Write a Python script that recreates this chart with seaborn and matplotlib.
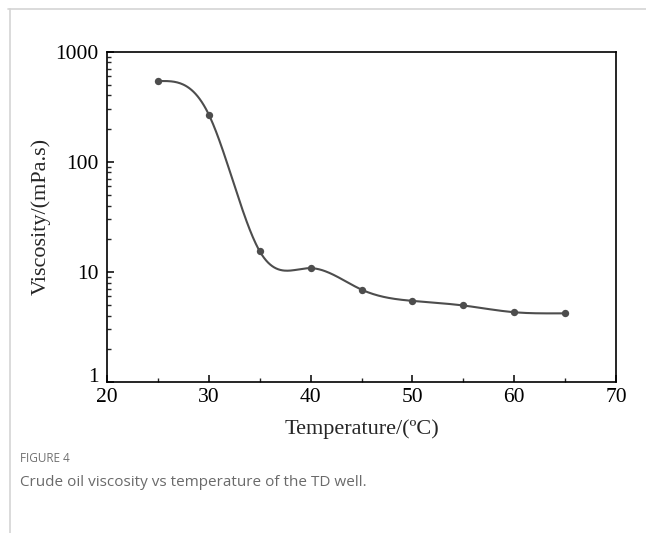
import numpy as np
import pandas as pd
import matplotlib
matplotlib.use("Agg")
import matplotlib.pyplot as plt
import matplotlib.transforms as mtransforms
import seaborn as sns
from matplotlib.lines import Line2D
from matplotlib.ticker import LogLocator, NullFormatter, MultipleLocator

# Data
temperature = [25, 30, 35, 40, 45, 50, 55, 60, 65]
viscosity = [540, 268, 15.4, 10.8, 6.9, 5.45, 4.95, 4.3, 4.2]

x_ticks = [20, 30, 40, 50, 60, 70]
y_ticks = [1, 10, 100, 1000]
y_tick_labels = ["1", "10", "100", "1000"]

x_label = "Temperature/(ºC)"
y_label = "Viscosity/(mPa.s)"
caption_title = "FIGURE 4"
caption_text = "Crude oil viscosity vs temperature of the TD well."


def clamped_spline(x, y, n=400):
    """Cubic spline with zero end slopes (smooth connecting curve)."""
    x = np.asarray(x, float)
    y = np.asarray(y, float)
    k = len(x)
    h = np.diff(x)
    A = np.zeros((k, k))
    b = np.zeros(k)
    A[0, 0] = 2 * h[0]
    A[0, 1] = h[0]
    b[0] = 6 * ((y[1] - y[0]) / h[0])
    A[-1, -2] = h[-1]
    A[-1, -1] = 2 * h[-1]
    b[-1] = 6 * (-(y[-1] - y[-2]) / h[-1])
    for i in range(1, k - 1):
        A[i, i - 1] = h[i - 1]
        A[i, i] = 2 * (h[i - 1] + h[i])
        A[i, i + 1] = h[i]
        b[i] = 6 * ((y[i + 1] - y[i]) / h[i] - (y[i] - y[i - 1]) / h[i - 1])
    M = np.linalg.solve(A, b)
    xs = np.linspace(x[0], x[-1], n)
    idx = np.clip(np.searchsorted(x, xs) - 1, 0, k - 2)
    x0, x1 = x[idx], x[idx + 1]
    hh = x1 - x0
    t0 = x1 - xs
    t1 = xs - x0
    ys = (M[idx] * t0 ** 3 / (6 * hh) + M[idx + 1] * t1 ** 3 / (6 * hh)
          + (y[idx] / hh - M[idx] * hh / 6) * t0
          + (y[idx + 1] / hh - M[idx + 1] * hh / 6) * t1)
    return xs, ys


df = pd.DataFrame({"T": temperature, "V": viscosity})
xs, ly = clamped_spline(df["T"], np.log10(df["V"]))
curve = pd.DataFrame({"T": xs, "V": 10 ** ly})

sns.set_style("white")
plt.rcParams["font.family"] = ["Liberation Serif", "DejaVu Serif"]

fig = plt.figure(figsize=(6.46, 5.33), dpi=100)
ax = fig.add_axes([0.1656, 0.2833, 0.788, 0.620])

line_color = "#4d4d4d"
sns.lineplot(data=curve, x="T", y="V", ax=ax, color=line_color, lw=1.5,
             sort=False, estimator=None)
sns.scatterplot(data=df, x="T", y="V", ax=ax, color=line_color, s=28,
                edgecolor=line_color, linewidth=0, zorder=3)

ax.set_yscale("log")
ax.set_xlim(20, 70)
ax.set_ylim(1, 1000)
ax.set_xticks(x_ticks)
ax.set_xticklabels([str(t) for t in x_ticks])
ax.xaxis.set_minor_locator(MultipleLocator(5))
ax.set_yticks(y_ticks)
ax.set_yticklabels(y_tick_labels)
ax.yaxis.set_minor_locator(LogLocator(base=10, subs=np.arange(2, 10)))
ax.yaxis.set_minor_formatter(NullFormatter())

ax.tick_params(axis="both", which="major", direction="in", length=5, width=1.1,
               labelsize=15.5, colors="black")
ax.tick_params(axis="both", which="minor", direction="in", length=3, width=1.0)
ax.tick_params(axis="x", which="both", top=False, bottom=True, pad=4)
ax.tick_params(axis="y", which="both", left=True, right=False, pad=6)

# raise the "1" label slightly, as in the reference
fig.canvas.draw()
for lab in ax.get_yticklabels():
    if lab.get_text() == "1":
        lab.set_transform(lab.get_transform() +
                          mtransforms.ScaledTranslation(0, 7 / 100, fig.dpi_scale_trans))

for s in ax.spines.values():
    s.set_visible(True)
    s.set_color("black")
    s.set_linewidth(1.2)

ax.set_xlabel(x_label, fontsize=16, labelpad=9)
ax.set_ylabel(y_label, fontsize=16, labelpad=3)

# page frame lines
frame_color = "#d4d4d4"
fig.add_artist(Line2D([8 / 646, 1.0], [1 - 9 / 533, 1 - 9 / 533], color=frame_color, lw=1.2))
fig.add_artist(Line2D([10 / 646, 10 / 646], [0.0, 1 - 9 / 533], color=frame_color, lw=1.2))

fig.text(20 / 646, 1 - 459 / 533, caption_title, family=["Open Sans", "DejaVu Sans"],
         fontsize=8.5, color="#707070", va="center", ha="left")
fig.text(20 / 646, 1 - 483 / 533, caption_text, family=["Open Sans", "DejaVu Sans"],
         fontsize=11, color="#6a6a6a", va="center", ha="left")

fig.savefig("out.png", dpi=100)
